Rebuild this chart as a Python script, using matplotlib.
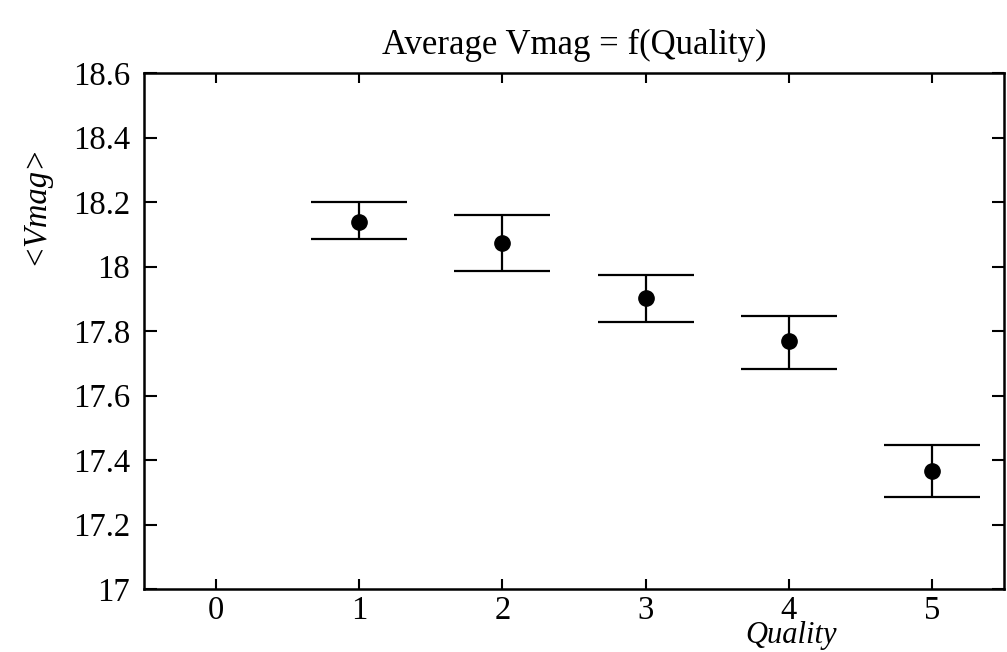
import matplotlib
matplotlib.use("Agg")
import matplotlib.pyplot as plt

quality = [1, 2, 3, 4, 5]
vmag_mean = [18.138, 18.072, 17.902, 17.768, 17.366]
vmag_upper = [18.199, 18.159, 17.975, 17.848, 17.448]
vmag_lower = [18.085, 17.986, 17.828, 17.682, 17.284]
xticks = [0, 1, 2, 3, 4, 5]
yticks = [17.0, 17.2, 17.4, 17.6, 17.8, 18.0, 18.2, 18.4, 18.6]
ytick_labels = ["17", "17.2", "17.4", "17.6", "17.8", "18", "18.2", "18.4", "18.6"]

plt.rcParams['font.family'] = ['Liberation Serif', 'DejaVu Serif']

fig = plt.figure(figsize=(10.07, 6.52), dpi=100)
ax = fig.add_axes([144/1007, 1 - 589/652, (1004-144)/1007, (589-73)/652])

yerr_low = [m - l for m, l in zip(vmag_mean, vmag_lower)]
yerr_high = [u - m for m, u in zip(vmag_mean, vmag_upper)]
ax.errorbar(quality, vmag_mean, yerr=[yerr_low, yerr_high], fmt='o', color='black',
            markersize=11, elinewidth=1.6, capsize=34.5, capthick=1.6)

ax.set_xlim(-0.5, 5.5)
ax.set_ylim(17.0, 18.6)
ax.set_xticks(xticks)
ax.set_yticks(yticks)
ax.set_yticklabels(ytick_labels)
ax.tick_params(axis='both', direction='in', top=True, right=True, labelsize=23.5,
               width=1.5, colors='black')
ax.tick_params(axis='y', length=9, pad=10)
ax.tick_params(axis='x', length=7, pad=5)
for s in ax.spines.values():
    s.set_linewidth(1.8)

ax.set_title("Average Vmag = f(Quality)", fontsize=25, pad=14)
ax.set_ylabel("<Vmag>", fontsize=23.5, fontstyle='italic')
ax.yaxis.set_label_coords(-0.109, 0.745)
ax.set_xlabel("Quality", fontsize=22, fontstyle='italic')
ax.xaxis.set_label_coords(0.752, -0.062)

fig.savefig("out.png", dpi=100)
